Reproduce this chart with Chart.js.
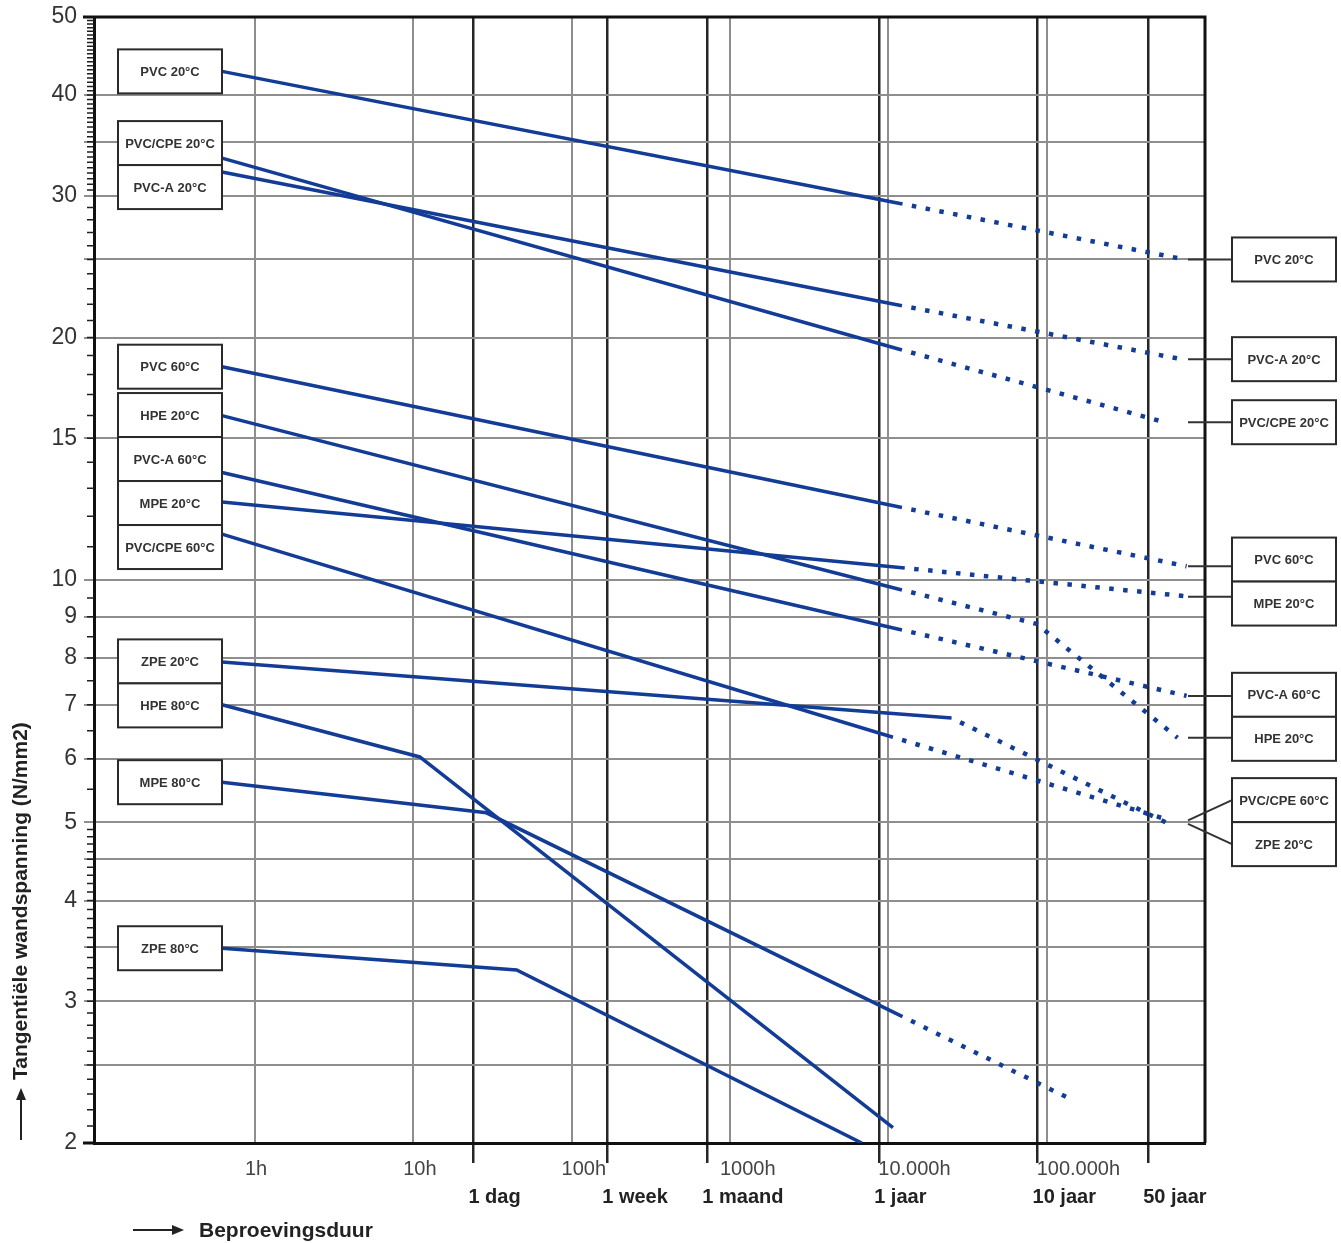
<!DOCTYPE html>
<html>
<head>
<meta charset="utf-8">
<script src="https://cdn.jsdelivr.net/npm/chart.js@4.4.0/dist/chart.umd.min.js"></script>
<style>
  html, body { margin: 0; padding: 0; background: #fff; }
</style>
</head>
<body>
<canvas id="chart" width="1341" height="1243"></canvas>
<script>
// --- Axis ticks ---
const HOUR_TICKS = [1, 10, 100, 1000, 10000, 100000];
const HOUR_LABELS = ['1h', '10h', '100h', '1000h', '10.000h', '100.000h'];
const PERIOD_TICKS = [24, 168, 720, 8760, 87600, 438000];
const PERIOD_LABELS = ['1 dag', '1 week', '1 maand', '1 jaar', '10 jaar', '50 jaar'];
const STRESS_GRID = [2, 2.5, 3, 3.5, 4, 4.5, 5, 6, 7, 8, 9, 10, 15, 20, 25, 30, 35, 40, 50];
const STRESS_LABELS = [2, 3, 4, 5, 6, 7, 8, 9, 10, 15, 20, 30, 40, 50];

// --- Curves: [hours, N/mm2], measured part and extrapolation ---
const PVC_20 = [[0.62, 42.8], [12300, 29.3]];
const PVC_20_EXT = [[743000, 25.0]];
const PVC_CPE_20 = [[0.62, 33.4], [12200, 19.3]];
const PVC_CPE_20_EXT = [[556000, 15.7]];
const PVC_A_20 = [[0.62, 32.1], [12200, 21.9]];
const PVC_A_20_EXT = [[711000, 18.8]];
const PVC_60 = [[0.62, 18.4], [12200, 12.3]];
const PVC_60_EXT = [[765000, 10.4]];
const HPE_20 = [[0.62, 16.0], [12200, 9.72]];
const HPE_20_EXT = [[86500, 8.82], [671000, 6.37]];
const PVC_A_60 = [[0.62, 13.6], [12200, 8.67]];
const PVC_A_60_EXT = [[765000, 7.18]];
const MPE_20 = [[0.62, 12.5], [12700, 10.35]];
const MPE_20_EXT = [[822000, 9.53]];
const PVC_CPE_60 = [[0.62, 11.4], [10700, 6.38]];
const PVC_CPE_60_EXT = [[600000, 5.03]];
const ZPE_20 = [[0.62, 7.91], [25100, 6.74]];
const ZPE_20_EXT = [[590000, 4.98]];
const HPE_80 = [[0.62, 7.0], [11, 6.03], [10700, 2.09]];
const MPE_80 = [[0.62, 5.61], [29, 5.14], [12300, 2.87]];
const MPE_80_EXT = [[140000, 2.27]];
const ZPE_80 = [[0.62, 3.49], [45, 3.28], [6800, 2.0]];

const SERIES = [
    { name: 'PVC 20°C', solid: PVC_20, ext: PVC_20_EXT, rightLabel: true },
    { name: 'PVC/CPE 20°C', solid: PVC_CPE_20, ext: PVC_CPE_20_EXT, rightLabel: true },
    { name: 'PVC-A 20°C', solid: PVC_A_20, ext: PVC_A_20_EXT, rightLabel: true },
    { name: 'PVC 60°C', solid: PVC_60, ext: PVC_60_EXT, rightLabel: true },
    { name: 'HPE 20°C', solid: HPE_20, ext: HPE_20_EXT, rightLabel: true },
    { name: 'PVC-A 60°C', solid: PVC_A_60, ext: PVC_A_60_EXT, rightLabel: true },
    { name: 'MPE 20°C', solid: MPE_20, ext: MPE_20_EXT, rightLabel: true },
    { name: 'PVC/CPE 60°C', solid: PVC_CPE_60, ext: PVC_CPE_60_EXT, rightLabel: true },
    { name: 'ZPE 20°C', solid: ZPE_20, ext: ZPE_20_EXT, rightLabel: true },
    { name: 'HPE 80°C', solid: HPE_80, ext: [], rightLabel: false },
    { name: 'MPE 80°C', solid: MPE_80, ext: MPE_80_EXT, rightLabel: false },
    { name: 'ZPE 80°C', solid: ZPE_80, ext: [], rightLabel: false },
];

const FONT = "'Liberation Sans', Arial, Helvetica, sans-serif";
const LINE_BLUE = '#133c96';
const GRID_GRAY = '#8e8e8e';
const DARK = '#1e1e1e';
const BOX_W = 104;
const BOX_H = 44;
// minor tick spacing on the stress axis: [from, to, step]
const MINOR_STEPS = [[2, 5, 0.1], [5, 10, 0.5], [10, 30, 1], [30, 50, 0.5]];

const toXY = p => ({ x: p[0], y: p[1] });

const datasets = [];
SERIES.forEach(s => {
    datasets.push({
        label: s.name,
        data: s.solid.map(toXY),
        borderColor: LINE_BLUE,
        borderWidth: 3.5,
        pointRadius: 0,
        tension: 0,
        fill: false,
    });
    if (s.ext.length) {
        const start = s.solid[s.solid.length - 1];
        datasets.push({
            label: s.name + ' (extrapolatie)',
            data: [start, ...s.ext].map(toXY),
            borderColor: LINE_BLUE,
            borderWidth: 4.5,
            borderDash: [4.5, 9.5],
            borderDashOffset: 4.5,
            pointRadius: 0,
            tension: 0,
            fill: false,
        });
    }
});

// stack overlapping label boxes around the mean of their anchors
function spreadBoxes(items, h) {
    items.sort((a, b) => a.y - b.y);
    let groups = items.map(it => ({ members: [it], center: it.y }));
    let merged = true;
    while (merged) {
        merged = false;
        for (let i = 0; i < groups.length - 1; i++) {
            const a = groups[i], b = groups[i + 1];
            const aBottom = a.center + a.members.length * h / 2;
            const bTop = b.center - b.members.length * h / 2;
            if (aBottom > bTop + 0.5) {
                const members = a.members.concat(b.members);
                const center = members.reduce((sum, m) => sum + m.y, 0) / members.length;
                groups.splice(i, 2, { members, center });
                merged = true;
                break;
            }
        }
    }
    groups.forEach(g => {
        const top = g.center - g.members.length * h / 2;
        g.members.forEach((m, k) => { m.boxY = top + h * (k + 0.5); });
    });
    return items;
}

function drawBox(ctx, left, cy, text) {
    ctx.fillStyle = '#fff';
    ctx.fillRect(left, cy - BOX_H / 2, BOX_W, BOX_H);
    ctx.strokeStyle = '#2a2a2a';
    ctx.lineWidth = 2;
    ctx.strokeRect(left, cy - BOX_H / 2, BOX_W, BOX_H);
    ctx.fillStyle = '#333';
    ctx.font = 'bold 13px ' + FONT;
    ctx.textAlign = 'center';
    ctx.textBaseline = 'middle';
    ctx.fillText(text, left + BOX_W / 2, cy + 1);
}

function drawArrow(ctx, x1, y1, x2, y2) {
    const ang = Math.atan2(y2 - y1, x2 - x1);
    const head = 12;
    ctx.strokeStyle = '#222';
    ctx.fillStyle = '#222';
    ctx.lineWidth = 2;
    ctx.beginPath();
    ctx.moveTo(x1, y1);
    ctx.lineTo(x2 - head * Math.cos(ang), y2 - head * Math.sin(ang));
    ctx.stroke();
    ctx.beginPath();
    ctx.moveTo(x2, y2);
    ctx.lineTo(x2 - head * Math.cos(ang) + 5 * Math.sin(ang), y2 - head * Math.sin(ang) - 5 * Math.cos(ang));
    ctx.lineTo(x2 - head * Math.cos(ang) - 5 * Math.sin(ang), y2 - head * Math.sin(ang) + 5 * Math.cos(ang));
    ctx.closePath();
    ctx.fill();
}

const decorations = {
    id: 'decorations',
    afterDraw(chart) {
        const { ctx, chartArea: area } = chart;
        const xs = chart.scales.x;
        const ys = chart.scales.y;
        ctx.save();

        // minor ticks on the stress axis
        ctx.strokeStyle = DARK;
        ctx.lineWidth = 1.5;
        ctx.beginPath();
        MINOR_STEPS.forEach(([from, to, step]) => {
            for (let v = from + step; v < to - step / 2; v += step) {
                const py = ys.getPixelForValue(v);
                ctx.moveTo(area.left - 7, py);
                ctx.lineTo(area.left, py);
            }
        });
        ctx.stroke();

        // frame
        ctx.strokeStyle = '#111';
        ctx.lineWidth = 3;
        ctx.beginPath();
        ctx.moveTo(area.left - 11, area.top);
        ctx.lineTo(area.right, area.top);
        ctx.lineTo(area.right, area.bottom);
        ctx.moveTo(area.left - 11, area.bottom);
        ctx.lineTo(area.left, area.bottom);
        ctx.stroke();

        // left labels at the start of each curve
        const leftItems = spreadBoxes(SERIES.map(s => ({
            name: s.name,
            x: xs.getPixelForValue(s.solid[0][0]),
            y: ys.getPixelForValue(s.solid[0][1]),
        })), BOX_H);
        leftItems.forEach(it => drawBox(ctx, it.x - BOX_W, it.boxY, it.name));

        // right labels at the end of the extrapolation
        const rightItems = spreadBoxes(SERIES.filter(s => s.rightLabel).map(s => {
            const last = s.ext[s.ext.length - 1];
            return { name: s.name, y: ys.getPixelForValue(last[1]) };
        }), BOX_H);
        const boxLeft = area.right + 27;
        const connStart = area.right - 17;
        rightItems.forEach(it => {
            const targetY = Math.abs(it.y - it.boxY) > 10 ? it.boxY : it.y;
            ctx.strokeStyle = '#333';
            ctx.lineWidth = 2;
            ctx.beginPath();
            ctx.moveTo(connStart, it.y);
            ctx.lineTo(boxLeft, targetY);
            ctx.stroke();
            drawBox(ctx, boxLeft, it.boxY, it.name);
        });

        // axis titles
        drawArrow(ctx, 21, area.bottom - 3, 21, area.bottom - 55);
        ctx.save();
        ctx.translate(21, area.bottom - 63);
        ctx.rotate(-Math.PI / 2);
        ctx.fillStyle = '#222';
        ctx.font = 'bold 21px ' + FONT;
        ctx.textAlign = 'left';
        ctx.textBaseline = 'middle';
        ctx.fillText('Tangentiële wandspanning (N/mm2)', 0, 0);
        ctx.restore();

        drawArrow(ctx, 133, 1230, 184, 1230);
        ctx.fillStyle = '#222';
        ctx.font = 'bold 21px ' + FONT;
        ctx.textAlign = 'left';
        ctx.textBaseline = 'middle';
        ctx.fillText('Beproevingsduur', 199, 1231);

        ctx.restore();
    }
};

const X_MIN = 0.0964;
const X_MAX = 1e6;

new Chart(document.getElementById('chart'), {
    type: 'line',
    data: { datasets: datasets },
    options: {
        responsive: false,
        animation: false,
        layout: { padding: { top: 17, right: 136, left: 0, bottom: 0 } },
        plugins: {
            legend: { display: false },
            tooltip: { enabled: false },
        },
        scales: {
            x: {
                type: 'logarithmic',
                position: 'bottom',
                min: X_MIN,
                max: X_MAX,
                afterBuildTicks: s => { s.ticks = HOUR_TICKS.map(v => ({ value: v })); },
                afterFit: s => { s.height = 0; s.paddingLeft = 0; s.paddingRight = 0; },
                ticks: {
                    autoSkip: false,
                    maxRotation: 0,
                    mirror: true,
                    align: 'start',
                    labelOffset: -10,
                    padding: -38,
                    color: '#444',
                    font: { family: FONT, size: 20 },
                    callback: v => HOUR_LABELS[HOUR_TICKS.indexOf(v)] ?? '',
                },
                grid: { color: GRID_GRAY, lineWidth: 2, drawTicks: false },
                border: { display: true, color: '#111', width: 3 },
            },
            x2: {
                type: 'logarithmic',
                position: 'bottom',
                min: X_MIN,
                max: X_MAX,
                afterBuildTicks: s => { s.ticks = PERIOD_TICKS.map(v => ({ value: v })); },
                afterFit: s => { s.height = 100; s.paddingLeft = 0; s.paddingRight = 0; },
                ticks: {
                    autoSkip: false,
                    maxRotation: 0,
                    align: 'start',
                    labelOffset: -5,
                    padding: 22,
                    color: '#222',
                    font: { family: FONT, size: 20, weight: 'bold' },
                    callback: v => PERIOD_LABELS[PERIOD_TICKS.indexOf(v)] ?? '',
                },
                grid: { color: '#262626', lineWidth: 2.5, drawTicks: true, tickLength: 20 },
                border: { display: false },
            },
            y: {
                type: 'logarithmic',
                min: 2,
                max: 50,
                afterBuildTicks: s => { s.ticks = STRESS_GRID.map(v => ({ value: v })); },
                afterFit: s => { s.width = 94; s.paddingTop = 0; s.paddingBottom = 0; },
                ticks: {
                    autoSkip: false,
                    padding: 7,
                    color: '#333',
                    font: { family: FONT, size: 23 },
                    callback: v => STRESS_LABELS.includes(v) ? String(v) : '',
                },
                grid: { color: GRID_GRAY, lineWidth: 2, tickLength: 10 },
                border: { display: true, color: '#111', width: 3 },
            },
        },
    },
    plugins: [decorations],
});
</script>
</body>
</html>
